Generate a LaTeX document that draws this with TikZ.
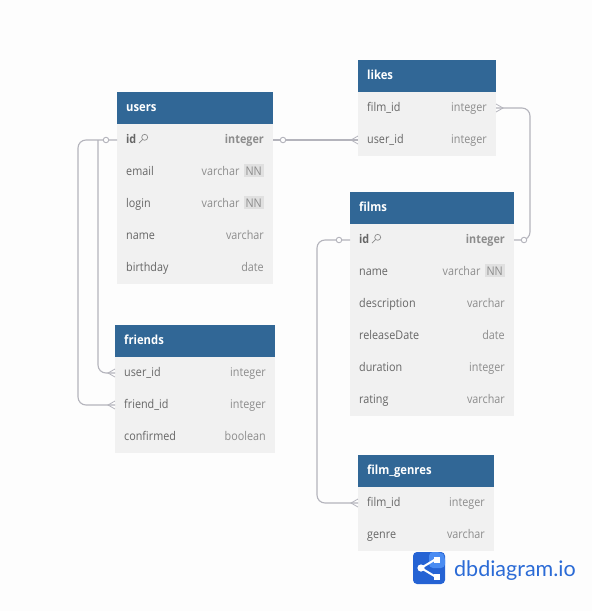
\documentclass[tikz,border=0pt]{standalone}
\usepackage{fontspec}
\setmainfont[FakeStretch=0.9]{Open Sans}
\newfontfamily\logofont{Lato}
\usepackage{xcolor}
\usetikzlibrary{calc,positioning}

\definecolor{pagebg}{HTML}{FDFDFD}
\definecolor{headblue}{HTML}{316796}
\definecolor{rowgray}{HTML}{F1F1F1}
\definecolor{textgray}{HTML}{666666}
\definecolor{typegray}{HTML}{8C8C8C}
\definecolor{linegray}{HTML}{B4B4BC}
\definecolor{nngray}{HTML}{E0E0E0}
\definecolor{logodark}{HTML}{2563D4}
\definecolor{logolight}{HTML}{4A8CF2}
\definecolor{logotext}{HTML}{2B6BD6}

\newcommand{\nnbox}{\hspace{4pt}{\setlength{\fboxsep}{2pt}\colorbox{nngray}{NN}}}

\tikzset{
  conn/.style={draw=linegray,line width=1.1pt},
  headbox/.style={fill=headblue,anchor=north west,inner sep=0pt,outer sep=0pt,minimum height=32pt},
  rowbox/.style={fill=rowgray,anchor=north west,inner sep=0pt,outer sep=0pt,minimum height=32pt},
  headtext/.style={anchor=base west,inner sep=0pt,text=white,font=\fontsize{12.5}{14}\selectfont\bfseries},
  fieldtext/.style={anchor=base west,inner sep=0pt,text=textgray,font=\fontsize{12}{14}\selectfont},
  typetext/.style={anchor=base east,inner sep=0pt,text=typegray,font=\fontsize{12}{14}\selectfont},
  onemark/.style={circle,draw=linegray,fill=pagebg,line width=0.9pt,inner sep=0pt,minimum size=5.5pt},
  crowfoot/.pic={\draw[conn,line width=0.8pt] (0,-4)--(-7,0)--(0,4);},
  keyicon/.pic={\draw[typegray,line width=0.7pt] (1.7,-1.7) circle (3pt);
    \draw[typegray,line width=0.7pt] (-0.4,0.4)--(-4,4.2);}
}

% name, x, y, width, title, rows
\newcommand{\dbtable}[6]{
  \node[headbox,minimum width=#4 pt] (#1) at (#2,#3) {};
  \node[headtext] (#1-title) at (#2+9,#3+19) {#5};
  \foreach \fld/\typ [count=\r from 0] in {#6}{
    \node[rowbox,minimum width=#4 pt] (#1-\r) at (#2,#3+32+32*\r) {};
    \node[fieldtext] (#1-\r-name) at (#2+9,#3+32+19+32*\r) {\fld};
    \node[typetext] (#1-\r-type) at (#2+#4-9,#3+32+19+32*\r) {\typ};
  }
}

\begin{document}
\begin{tikzpicture}[x=1pt,y=-1pt]
  \useasboundingbox[fill=pagebg] (0,0) rectangle (592,611);

  \dbtable{users}{117}{92}{156}{users}{\textbf{id}/\textbf{integer},email/{varchar\nnbox},login/{varchar\nnbox},name/varchar,birthday/date}
  \dbtable{likes}{358}{60}{138}{likes}{film\_id/integer,user\_id/integer}
  \dbtable{films}{350}{192}{164}{films}{\textbf{id}/\textbf{integer},name/{varchar\nnbox},description/varchar,releaseDate/date,duration/integer,rating/varchar}
  \dbtable{friends}{115}{325}{160}{friends}{user\_id/integer,friend\_id/integer,confirmed/boolean}
  \dbtable{genres}{358}{455}{136}{film\_genres}{film\_id/integer,genre/varchar}

  \pic at (143,139) {keyicon};
  \pic at (376,239) {keyicon};

  % connectors
  \coordinate[left=19pt of users-0.west] (users-fork);
  \draw[conn,rounded corners=8pt] (users-0.west) -- ++(-39,0) |- (friends-1.west);
  \draw[conn,rounded corners=8pt] (users-fork) |- (friends-0.west);
  \draw[conn] (users-0.east) -- (likes-1.west);
  \draw[conn,rounded corners=8pt] (likes-0.east) -- ++(34,0) |- (films-0.east);
  \draw[conn,rounded corners=8pt] (films-0.west) -- ++(-33,0) |- (genres-0.west);

  \node[onemark] (users-0-left) at ([xshift=-11pt]users-0.west) {};
  \node[onemark] (users-0-right) at ([xshift=10pt]users-0.east) {};
  \node[onemark] (films-0-left) at ([xshift=-11pt]films-0.west) {};
  \node[onemark] (films-0-right) at ([xshift=10pt]films-0.east) {};
  \pic at (friends-0.west) {crowfoot};
  \pic at (friends-1.west) {crowfoot};
  \pic at (likes-1.west) {crowfoot};
  \pic at (genres-0.west) {crowfoot};
  \pic[xscale=-1] at (likes-0.east) {crowfoot};

  % logo
  \fill[logodark,rounded corners=4pt] (413,552) rectangle (445,584);
  \fill[logolight,rounded corners=4pt] (429,552) -- (441,552) -- (445,556) -- (445,568) -- (429,568) -- cycle;
  \draw[white,line width=2pt] (421,568) -- (436,559) (421,568) -- (436,577);
  \fill[white] (421,568) circle (3.6pt);
  \fill[white] (433.5,556.5) rectangle (440,562.5);
  \fill[white] (433.5,574) rectangle (440,580);
  \node[anchor=base west,inner sep=0pt,text=logotext,font=\fontsize{21.5}{24}\selectfont\logofont] (logo-text) at (454,576) {dbdiagram.io};
\end{tikzpicture}
\end{document}
